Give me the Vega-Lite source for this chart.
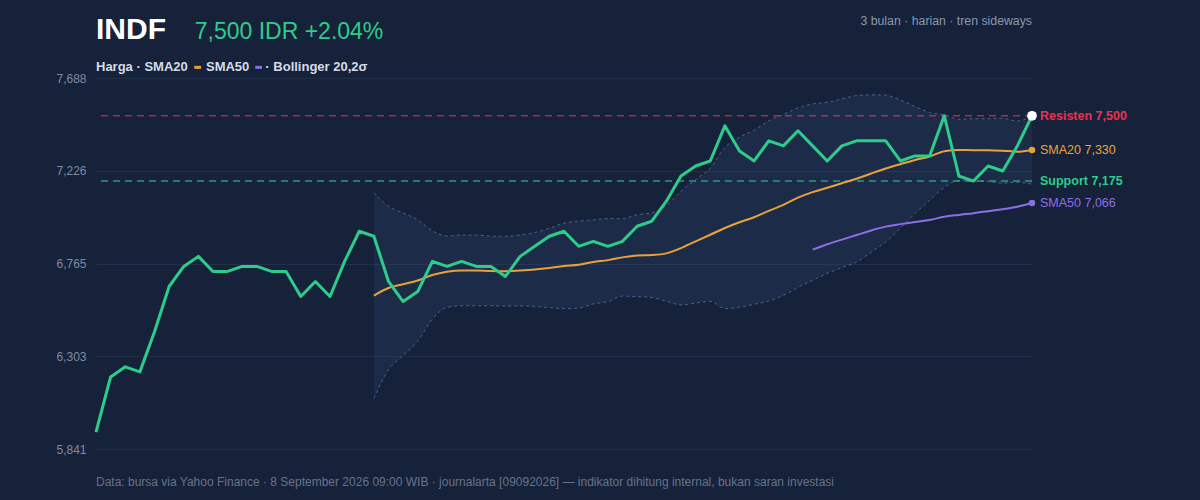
{
  "$schema": "https://vega.github.io/schema/vega-lite/v6.json",
  "width": 936,
  "height": 371,
  "autosize": {"type": "none"},
  "padding": {"left": 96, "top": 78, "right": 168, "bottom": 51},
  "background": "#16223a",
  "config": {"font": "Liberation Sans", "view": {"stroke": null}},
  "datasets": {
    "harga": [
      {"i": 0, "harga": 5925, "sma20": null, "sma50": null, "atas": null, "bawah": null},
      {"i": 1, "harga": 6200, "sma20": null, "sma50": null, "atas": null, "bawah": null},
      {"i": 2, "harga": 6250, "sma20": null, "sma50": null, "atas": null, "bawah": null},
      {"i": 3, "harga": 6225, "sma20": null, "sma50": null, "atas": null, "bawah": null},
      {"i": 4, "harga": 6425, "sma20": null, "sma50": null, "atas": null, "bawah": null},
      {"i": 5, "harga": 6650, "sma20": null, "sma50": null, "atas": null, "bawah": null},
      {"i": 6, "harga": 6750, "sma20": null, "sma50": null, "atas": null, "bawah": null},
      {"i": 7, "harga": 6800, "sma20": null, "sma50": null, "atas": null, "bawah": null},
      {"i": 8, "harga": 6725, "sma20": null, "sma50": null, "atas": null, "bawah": null},
      {"i": 9, "harga": 6725, "sma20": null, "sma50": null, "atas": null, "bawah": null},
      {"i": 10, "harga": 6750, "sma20": null, "sma50": null, "atas": null, "bawah": null},
      {"i": 11, "harga": 6750, "sma20": null, "sma50": null, "atas": null, "bawah": null},
      {"i": 12, "harga": 6725, "sma20": null, "sma50": null, "atas": null, "bawah": null},
      {"i": 13, "harga": 6725, "sma20": null, "sma50": null, "atas": null, "bawah": null},
      {"i": 14, "harga": 6600, "sma20": null, "sma50": null, "atas": null, "bawah": null},
      {"i": 15, "harga": 6675, "sma20": null, "sma50": null, "atas": null, "bawah": null},
      {"i": 16, "harga": 6600, "sma20": null, "sma50": null, "atas": null, "bawah": null},
      {"i": 17, "harga": 6775, "sma20": null, "sma50": null, "atas": null, "bawah": null},
      {"i": 18, "harga": 6925, "sma20": null, "sma50": null, "atas": null, "bawah": null},
      {"i": 19, "harga": 6900, "sma20": 6605, "sma50": null, "atas": 7117.5, "bawah": 6092.6},
      {"i": 20, "harga": 6675, "sma20": 6642.5, "sma50": null, "atas": 7049.3, "bawah": 6235.7},
      {"i": 21, "harga": 6575, "sma20": 6661.3, "sma50": null, "atas": 7016.0, "bawah": 6306.5},
      {"i": 22, "harga": 6625, "sma20": 6680, "sma50": null, "atas": 6981.5, "bawah": 6378.5},
      {"i": 23, "harga": 6775, "sma20": 6707.5, "sma50": null, "atas": 6927.2, "bawah": 6487.8},
      {"i": 24, "harga": 6750, "sma20": 6723.8, "sma50": null, "atas": 6901.6, "bawah": 6545.9},
      {"i": 25, "harga": 6775, "sma20": 6730, "sma50": null, "atas": 6905.8, "bawah": 6554.2},
      {"i": 26, "harga": 6750, "sma20": 6730, "sma50": null, "atas": 6905.8, "bawah": 6554.2},
      {"i": 27, "harga": 6750, "sma20": 6727.5, "sma50": null, "atas": 6900.6, "bawah": 6554.4},
      {"i": 28, "harga": 6700, "sma20": 6726.3, "sma50": null, "atas": 6899.8, "bawah": 6552.7},
      {"i": 29, "harga": 6800, "sma20": 6730, "sma50": null, "atas": 6906.5, "bawah": 6553.5},
      {"i": 30, "harga": 6850, "sma20": 6735, "sma50": null, "atas": 6919.0, "bawah": 6551.0},
      {"i": 31, "harga": 6900, "sma20": 6742.5, "sma50": null, "atas": 6940.0, "bawah": 6545.0},
      {"i": 32, "harga": 6925, "sma20": 6752.5, "sma50": null, "atas": 6965.2, "bawah": 6539.8},
      {"i": 33, "harga": 6850, "sma20": 6758.8, "sma50": null, "atas": 6975.2, "bawah": 6542.3},
      {"i": 34, "harga": 6875, "sma20": 6772.5, "sma50": null, "atas": 6981.6, "bawah": 6563.4},
      {"i": 35, "harga": 6850, "sma20": 6781.3, "sma50": null, "atas": 6987.9, "bawah": 6574.6},
      {"i": 36, "harga": 6875, "sma20": 6795, "sma50": null, "atas": 6987.7, "bawah": 6602.3},
      {"i": 37, "harga": 6950, "sma20": 6803.8, "sma50": null, "atas": 7007.7, "bawah": 6599.8},
      {"i": 38, "harga": 6975, "sma20": 6806.3, "sma50": null, "atas": 7017.1, "bawah": 6595.4},
      {"i": 39, "harga": 7075, "sma20": 6815, "sma50": null, "atas": 7053.4, "bawah": 6576.6},
      {"i": 40, "harga": 7200, "sma20": 6841.3, "sma50": null, "atas": 7123.8, "bawah": 6558.7},
      {"i": 41, "harga": 7250, "sma20": 6875, "sma50": null, "atas": 7182.4, "bawah": 6567.6},
      {"i": 42, "harga": 7275, "sma20": 6907.5, "sma50": null, "atas": 7238.8, "bawah": 6576.2},
      {"i": 43, "harga": 7450, "sma20": 6941.3, "sma50": null, "atas": 7342.0, "bawah": 6540.5},
      {"i": 44, "harga": 7325, "sma20": 6970, "sma50": null, "atas": 7393.6, "bawah": 6546.4},
      {"i": 45, "harga": 7275, "sma20": 6995, "sma50": null, "atas": 7428.5, "bawah": 6561.5},
      {"i": 46, "harga": 7375, "sma20": 7026.3, "sma50": null, "atas": 7474.4, "bawah": 6578.1},
      {"i": 47, "harga": 7350, "sma20": 7056.3, "sma50": null, "atas": 7506.8, "bawah": 6605.7},
      {"i": 48, "harga": 7425, "sma20": 7092.5, "sma50": null, "atas": 7539.2, "bawah": 6645.8},
      {"i": 49, "harga": 7350, "sma20": 7120, "sma50": 6833.5, "atas": 7559.0, "bawah": 6681.0},
      {"i": 50, "harga": 7275, "sma20": 7141.3, "sma50": 6860.5, "atas": 7566.8, "bawah": 6715.7},
      {"i": 51, "harga": 7350, "sma20": 7163.8, "sma50": 6883.5, "atas": 7583.4, "bawah": 6744.1},
      {"i": 52, "harga": 7375, "sma20": 7186.3, "sma50": 6906, "atas": 7600.4, "bawah": 6772.1},
      {"i": 53, "harga": 7375, "sma20": 7212.5, "sma50": 6929, "atas": 7604.1, "bawah": 6820.9},
      {"i": 54, "harga": 7375, "sma20": 7237.5, "sma50": 6948, "atas": 7602.7, "bawah": 6872.3},
      {"i": 55, "harga": 7275, "sma20": 7258.8, "sma50": 6960.5, "atas": 7577.8, "bawah": 6939.7},
      {"i": 56, "harga": 7300, "sma20": 7280, "sma50": 6971.5, "atas": 7546.3, "bawah": 7013.7},
      {"i": 57, "harga": 7300, "sma20": 7297.5, "sma50": 6981.5, "atas": 7516.5, "bawah": 7078.5},
      {"i": 58, "harga": 7500, "sma20": 7323.8, "sma50": 6997, "atas": 7504.4, "bawah": 7143.1},
      {"i": 59, "harga": 7200, "sma20": 7330, "sma50": 7006.5, "atas": 7482.2, "bawah": 7177.8},
      {"i": 60, "harga": 7175, "sma20": 7328.8, "sma50": 7015, "atas": 7485.5, "bawah": 7172.0},
      {"i": 61, "harga": 7250, "sma20": 7328.8, "sma50": 7025, "atas": 7485.5, "bawah": 7172.0},
      {"i": 62, "harga": 7225, "sma20": 7326.3, "sma50": 7035, "atas": 7487.9, "bawah": 7164.6},
      {"i": 63, "harga": 7350, "sma20": 7321.3, "sma50": 7047.5, "atas": 7473.2, "bawah": 7169.3},
      {"i": 64, "harga": 7500, "sma20": 7330, "sma50": 7065.5, "atas": 7500.8, "bawah": 7159.2}
    ],
    "level": [
      {"jenis": "Resisten", "nilai": 7500, "teks": "Resisten 7,500"},
      {"jenis": "Support", "nilai": 7175, "teks": "Support 7,175"}
    ],
    "sma_label": [
      {"jenis": "SMA20", "nilai": 7330, "teks": "SMA20 7,330"},
      {"jenis": "SMA50", "nilai": 7065.5, "teks": "SMA50 7,066"}
    ]
  },
  "layer": [
    {
      "data": {"name": "harga"},
      "mark": {"type": "area", "color": "#5a7cc0", "opacity": 0.1, "interpolate": "monotone"},
      "encoding": {
        "x": {"field": "i", "type": "quantitative", "scale": {"domain": [0, 64], "nice": false, "zero": false}, "axis": null},
        "y": {
          "field": "atas", "type": "quantitative",
          "scale": {"domain": [5841, 7688], "nice": false, "zero": false},
          "axis": {
            "values": [5841, 6302.75, 6764.5, 7226.25, 7688],
            "format": ",.0f", "title": null, "domain": false, "ticks": false,
            "labelPadding": 10, "labelColor": "#7f8ba2", "labelFontSize": 12,
            "labelFont": "Liberation Sans", "gridColor": "#212f4a", "gridWidth": 1
          }
        },
        "y2": {"field": "bawah"}
      }
    },
    {
      "data": {"name": "harga"},
      "mark": {"type": "line", "color": "#4a6191", "strokeWidth": 1, "strokeDash": [3, 3], "interpolate": "monotone"},
      "encoding": {"x": {"field": "i", "type": "quantitative"}, "y": {"field": "atas", "type": "quantitative"}}
    },
    {
      "data": {"name": "harga"},
      "mark": {"type": "line", "color": "#4a6191", "strokeWidth": 1, "strokeDash": [3, 3], "interpolate": "monotone"},
      "encoding": {"x": {"field": "i", "type": "quantitative"}, "y": {"field": "bawah", "type": "quantitative"}}
    },
    {
      "data": {"name": "level"},
      "mark": {"type": "rule", "strokeWidth": 1.6, "strokeDash": [7, 5], "opacity": 0.7},
      "encoding": {
        "y": {"field": "nilai", "type": "quantitative"},
        "color": {"field": "jenis", "type": "nominal", "scale": {"domain": ["Resisten", "Support", "SMA20", "SMA50"], "range": ["#e8334f", "#2ecc8a", "#e9a23b", "#8c6ee6"]}, "legend": null}
      }
    },
    {
      "data": {"name": "harga"},
      "mark": {"type": "line", "color": "#e9a23b", "strokeWidth": 2, "interpolate": "monotone"},
      "encoding": {"x": {"field": "i", "type": "quantitative"}, "y": {"field": "sma20", "type": "quantitative"}}
    },
    {
      "data": {"name": "harga"},
      "mark": {"type": "line", "color": "#8c6ee6", "strokeWidth": 2, "interpolate": "monotone"},
      "encoding": {"x": {"field": "i", "type": "quantitative"}, "y": {"field": "sma50", "type": "quantitative"}}
    },
    {
      "data": {"name": "harga"},
      "mark": {"type": "line", "color": "#2ecc8a", "strokeWidth": 3, "strokeJoin": "round"},
      "encoding": {"x": {"field": "i", "type": "quantitative"}, "y": {"field": "harga", "type": "quantitative"}}
    },
    {
      "data": {"name": "harga"},
      "transform": [{"filter": {"field": "i", "equal": 64}}],
      "mark": {"type": "circle", "color": "#e9a23b", "opacity": 1, "size": 42},
      "encoding": {"x": {"field": "i", "type": "quantitative"}, "y": {"field": "sma20", "type": "quantitative"}}
    },
    {
      "data": {"name": "harga"},
      "transform": [{"filter": {"field": "i", "equal": 64}}],
      "mark": {"type": "circle", "color": "#8c6ee6", "opacity": 1, "size": 42},
      "encoding": {"x": {"field": "i", "type": "quantitative"}, "y": {"field": "sma50", "type": "quantitative"}}
    },
    {
      "data": {"name": "harga"},
      "transform": [{"filter": {"field": "i", "equal": 64}}],
      "mark": {"type": "circle", "color": "#ffffff", "opacity": 1, "size": 95},
      "encoding": {"x": {"field": "i", "type": "quantitative"}, "y": {"field": "harga", "type": "quantitative"}}
    },
    {
      "data": {"name": "level"},
      "mark": {"type": "text", "align": "left", "baseline": "middle", "dx": 8, "fontSize": 12.5, "fontWeight": "bold"},
      "encoding": {
        "x": {"datum": 64},
        "y": {"field": "nilai", "type": "quantitative"},
        "text": {"field": "teks", "type": "nominal"},
        "color": {"field": "jenis", "type": "nominal", "legend": null}
      }
    },
    {
      "data": {"name": "sma_label"},
      "mark": {"type": "text", "align": "left", "baseline": "middle", "dx": 8, "fontSize": 12.5},
      "encoding": {
        "x": {"datum": 64},
        "y": {"field": "nilai", "type": "quantitative"},
        "text": {"field": "teks", "type": "nominal"},
        "color": {"field": "jenis", "type": "nominal", "legend": null}
      }
    },
    {
      "data": {"values": [{"teks": "INDF"}]},
      "mark": {"type": "text", "align": "left", "baseline": "alphabetic", "fontSize": 30, "fontWeight": "bold", "color": "#ffffff"},
      "encoding": {"x": {"datum": 0}, "y": {"datum": 7880.5}, "text": {"field": "teks", "type": "nominal"}}
    },
    {
      "data": {"values": [{"teks": "7,500 IDR +2.04%"}]},
      "mark": {"type": "text", "align": "left", "baseline": "alphabetic", "fontSize": 23, "color": "#2ecc8a"},
      "encoding": {"x": {"datum": 6.75}, "y": {"datum": 7880.5}, "text": {"field": "teks", "type": "nominal"}}
    },
    {
      "data": {"values": [{"teks": "3 bulan · harian · tren sideways"}]},
      "mark": {"type": "text", "align": "right", "baseline": "alphabetic", "fontSize": 12.3, "color": "#8b97ab"},
      "encoding": {"x": {"datum": 64}, "y": {"datum": 7951.7}, "text": {"field": "teks", "type": "nominal"}}
    },
    {
      "data": {"values": [{"teks": "Harga · SMA20"}]},
      "mark": {"type": "text", "align": "left", "baseline": "alphabetic", "fontSize": 13, "fontWeight": "bold", "color": "#d5dce8"},
      "encoding": {"x": {"datum": 0}, "y": {"datum": 7722.7}, "text": {"field": "teks", "type": "nominal"}}
    },
    {
      "data": {"values": [{"k": 1}]},
      "mark": {"type": "rule", "color": "#e9a23b", "strokeWidth": 3},
      "encoding": {"x": {"datum": 6.72}, "x2": {"datum": 7.18}, "y": {"datum": 7741}}
    },
    {
      "data": {"values": [{"teks": "SMA50"}]},
      "mark": {"type": "text", "align": "left", "baseline": "alphabetic", "fontSize": 13, "fontWeight": "bold", "color": "#d5dce8"},
      "encoding": {"x": {"datum": 7.52}, "y": {"datum": 7722.7}, "text": {"field": "teks", "type": "nominal"}}
    },
    {
      "data": {"values": [{"k": 1}]},
      "mark": {"type": "rule", "color": "#8c6ee6", "strokeWidth": 3},
      "encoding": {"x": {"datum": 10.89}, "x2": {"datum": 11.35}, "y": {"datum": 7741}}
    },
    {
      "data": {"values": [{"teks": "· Bollinger 20,2σ"}]},
      "mark": {"type": "text", "align": "left", "baseline": "alphabetic", "fontSize": 13, "fontWeight": "bold", "color": "#d5dce8"},
      "encoding": {"x": {"datum": 11.58}, "y": {"datum": 7722.7}, "text": {"field": "teks", "type": "nominal"}}
    },
    {
      "data": {"values": [{"teks": "Data: bursa via Yahoo Finance · 8 September 2026 09:00 WIB · journalarta [09092026] — indikator dihitung internal, bukan saran investasi"}]},
      "mark": {"type": "text", "align": "left", "baseline": "alphabetic", "fontSize": 12, "color": "#66738b"},
      "encoding": {"x": {"datum": 0}, "y": {"datum": 5656.8}, "text": {"field": "teks", "type": "nominal"}}
    }
  ]
}
